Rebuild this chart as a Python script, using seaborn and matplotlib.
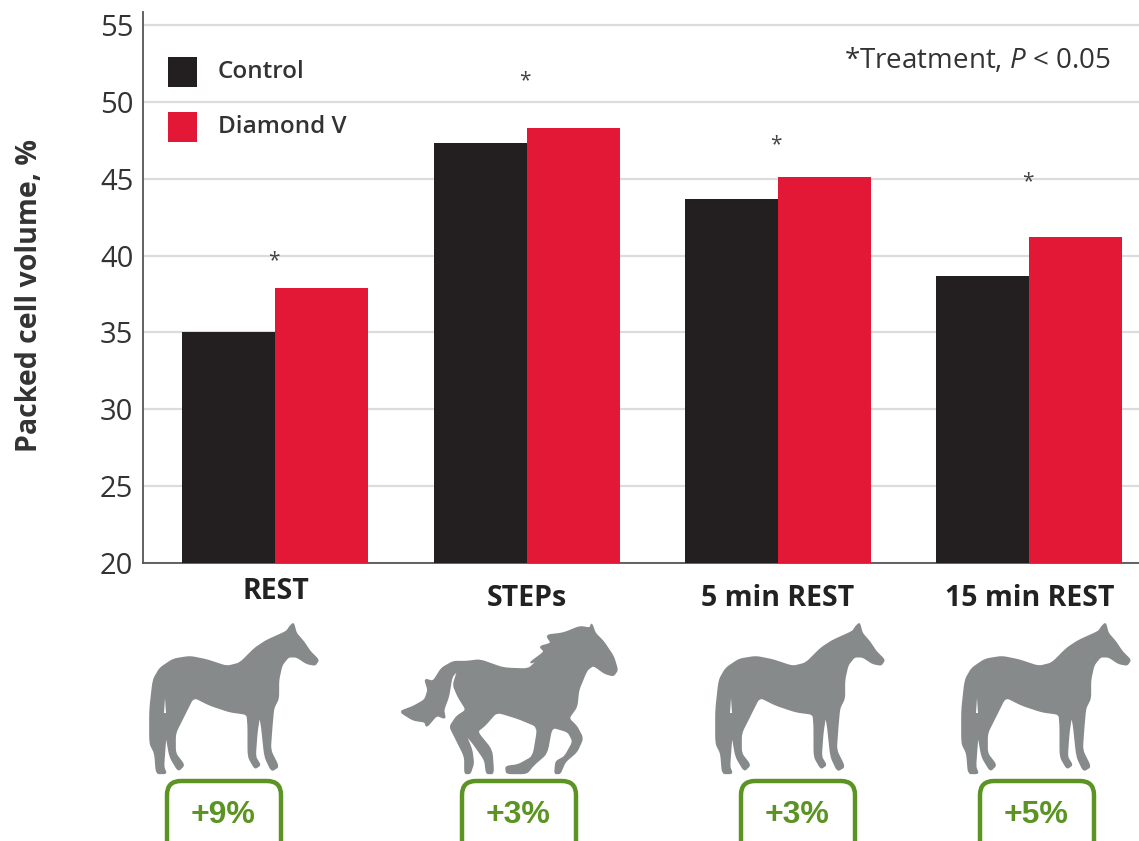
import matplotlib
matplotlib.use("Agg")
import matplotlib.pyplot as plt
import numpy as np
import pandas as pd
import seaborn as sns
from matplotlib.patches import FancyBboxPatch, Polygon

# values
phases = ["REST", "STEPs", "5 min REST", "15 min REST"]
control = [35.0, 47.3, 43.7, 38.7]
diamond = [37.9, 48.3, 45.1, 41.2]
star_y = [39.7, 51.4, 47.2, 44.8]
changes = ["+9%", "+3%", "+3%", "+5%"]
yticks = [20, 25, 30, 35, 40, 45, 50, 55]

sns.set_theme(style="white")
plt.rcParams["font.family"] = ["Open Sans", "DejaVu Sans"]
plt.rcParams["mathtext.fontset"] = "custom"
plt.rcParams["mathtext.it"] = "Open Sans:italic"
plt.rcParams["mathtext.rm"] = "Open Sans"

W, H = 1139, 841
ink = "#333333"
green = "#5b9423"
horse_grey = "#878a8a"


def smooth(pts, rounds=2):
    # corner cutting so the silhouettes lose their hard edges
    pts = np.array(pts, dtype=float)
    for _ in range(rounds):
        nxt = np.roll(pts, -1, axis=0)
        pts = np.column_stack([0.85 * pts + 0.15 * nxt, 0.15 * pts + 0.85 * nxt]).reshape(-1, 2)
    return pts


df = pd.DataFrame({
    "phase": phases * 2,
    "group": ["Control"] * 4 + ["Diamond V"] * 4,
    "pcv": control + diamond,
})

fig = plt.figure(figsize=(W / 100, H / 100), dpi=100)
ax = fig.add_axes([143 / W, 1 - 563 / H, (W - 143) / W, (563 - 12) / H])
sns.barplot(data=df, x="phase", y="pcv", hue="group", order=phases,
            palette={"Control": "#231f20", "Diamond V": "#e31837"},
            width=0.74, gap=0, saturation=1, errorbar=None, linewidth=0, ax=ax, zorder=3)

ax.set_xlim(-0.527, 3.436)
ax.set_ylim(20, 55.85)
ax.set_yticks(yticks)
ax.set_xlabel("")
ax.set_ylabel("")
ax.yaxis.grid(True, color="#dcdcdc", lw=1.6, zorder=0)
ax.set_axisbelow(True)
for side in ["top", "right"]:
    ax.spines[side].set_visible(False)
for side in ["left", "bottom"]:
    ax.spines[side].set_color("#555555")
    ax.spines[side].set_linewidth(1.3)
ax.tick_params(axis="y", length=0, pad=7, labelsize=21, labelcolor=ink)
ax.tick_params(axis="x", length=0, pad=15, labelsize=20.5, labelcolor="#222222")
for lab in ax.get_xticklabels():
    lab.set_fontweight("bold")
ax.xaxis.get_major_ticks()[0].set_pad(10)

fig.text(30 / W, 1 - 296 / H, "Packed cell volume, %", rotation=90, ha="center",
         va="center", fontsize=20.5, fontweight="bold", color=ink)

leg = ax.legend(loc="upper left", bbox_to_anchor=(25 / (W - 143), 1 - 45 / 551),
                frameon=False, borderaxespad=0, borderpad=0, fontsize=17.5,
                handlelength=1.2, handleheight=1.25, handletextpad=0.85,
                labelspacing=1.17, title=None)
for t in leg.get_texts():
    t.set_color(ink)
    t.set_fontweight("semibold")
for patch in leg.get_patches():
    patch.set_height(30 / 100 * 72)
    patch.set_y(patch.get_y() - 3)

fig.text(1111 / W, 1 - 60 / H, r"*Treatment, $\mathit{P}$ < 0.05", ha="right",
         va="center", fontsize=20, color=ink)

for i, y in enumerate(star_y):
    ax.text(i - 0.008, y, "*", ha="center", va="center", fontsize=15, color="#444444")

# overlay in pixel coordinates for the silhouettes and boxes
ov = fig.add_axes([0, 0, 1, 1], facecolor="none")
ov.set_xlim(0, W)
ov.set_ylim(H, 0)
ov.axis("off")

standing = [(460, 40), (468, 70), (490, 95), (510, 125), (535, 150), (525, 165), (500, 160),
            (470, 140), (445, 140), (425, 165), (415, 210), (415, 265), (400, 295), (395, 350),
            (390, 420), (415, 470), (395, 482), (375, 440), (365, 345), (358, 315), (350, 370),
            (345, 440), (360, 465), (345, 475), (325, 440), (325, 350), (322, 312), (270, 305),
            (210, 285), (160, 260), (130, 320), (105, 370), (105, 430), (132, 465), (115, 482),
            (90, 440), (78, 370), (75, 400), (70, 470), (78, 490), (50, 490), (45, 430), (30, 400),
            (30, 300), (40, 210), (60, 175), (100, 148), (150, 140), (200, 150), (260, 170),
            (300, 160), (345, 115), (380, 92), (440, 65), (450, 50)]
gallop = [(605, 42), (615, 70), (640, 95), (670, 140), (682, 180), (670, 197), (645, 190),
          (610, 165), (590, 180), (565, 240), (560, 290), (535, 325), (560, 350), (578, 385),
          (560, 425), (525, 455), (510, 490), (495, 490), (498, 455), (525, 440), (550, 395),
          (535, 365), (485, 350), (470, 430), (430, 465), (410, 490), (350, 490), (348, 470),
          (385, 465), (430, 440), (445, 350), (385, 325), (320, 305), (285, 345), (260, 365),
          (305, 420), (310, 490), (290, 490), (285, 450), (250, 400), (225, 370), (245, 420),
          (250, 460), (240, 490), (225, 490), (225, 440), (195, 380), (180, 350), (200, 320),
          (230, 300), (205, 260), (190, 225), (205, 178), (185, 200), (175, 260), (160, 300),
          (165, 325), (140, 315), (110, 350), (105, 335), (70, 330), (30, 305), (70, 290),
          (105, 270), (115, 240), (105, 208), (130, 215), (155, 175), (190, 155), (230, 155),
          (270, 150), (340, 175), (415, 178), (445, 150), (418, 160), (465, 125), (450, 110),
          (485, 100), (470, 76), (520, 70), (570, 50), (600, 55)]

for off_x in [140, 706, 952]:
    pts = smooth([(off_x + x / 3, 610 + y / 3) for x, y in standing])
    ov.add_patch(Polygon(pts, closed=True, fc=horse_grey, ec=horse_grey, lw=1.2))
    ov.add_patch(Polygon([(off_x + 25, 698), (off_x + 26, 713), (off_x + 24, 713)],
                         closed=True, fc="white", ec="none"))
pts = smooth([(390 + x / 3, 610 + y / 3) for x, y in gallop])
ov.add_patch(Polygon(pts, closed=True, fc=horse_grey, ec=horse_grey, lw=1.2))

box_left = [167, 462, 741, 980]
for left, txt in zip(box_left, changes):
    ov.add_patch(FancyBboxPatch((left, 781), 114, 90, boxstyle="round,pad=0,rounding_size=14",
                                fc="white", ec=green, lw=3.2, clip_on=True))
    ov.text(left + 56, 815, txt, ha="center", va="center", fontsize=23, fontweight="bold",
            color=green, family=["Liberation Sans", "DejaVu Sans"])

fig.savefig("out.png", dpi=100)
